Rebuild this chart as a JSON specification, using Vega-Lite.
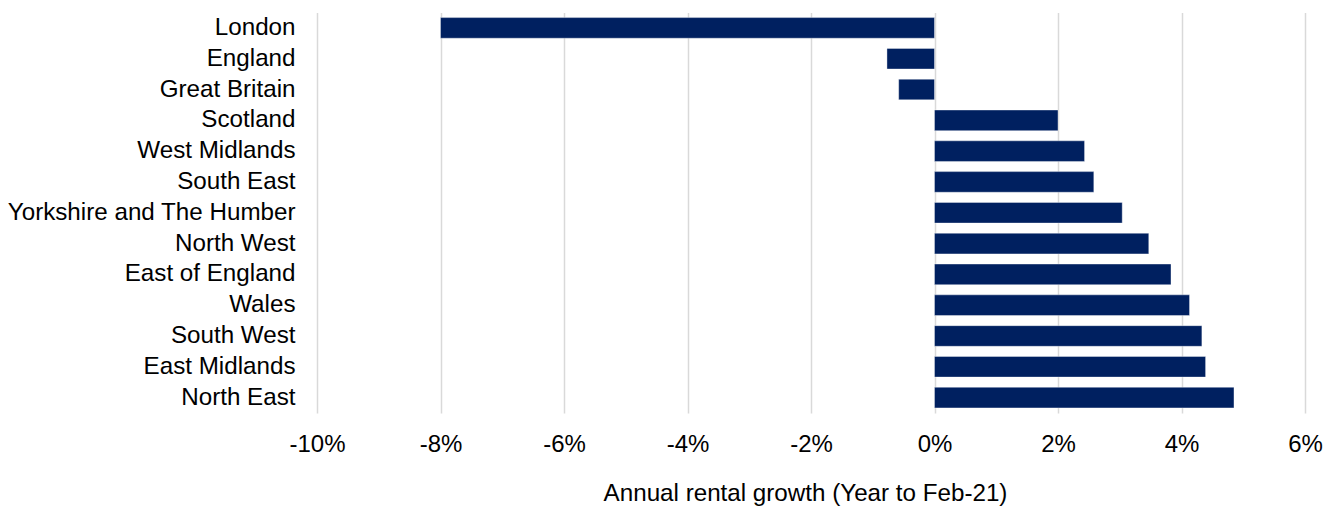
{
  "$schema": "https://vega.github.io/schema/vega-lite/v6.json",
  "autosize": "none",
  "padding": {"left": 317, "top": 12.5, "right": 30, "bottom": 93},
  "width": 988,
  "height": 400.5,
  "background": "#ffffff",
  "config": {
    "view": {"stroke": null},
    "font": "Liberation Sans",
    "axis": {"labelFont": "Liberation Sans", "titleFont": "Liberation Sans", "labelColor": "#000000", "titleColor": "#000000"}
  },
  "data": {
    "values": [
      {"region": "London", "growth": -0.0800},
      {"region": "England", "growth": -0.0077},
      {"region": "Great Britain", "growth": -0.0058},
      {"region": "Scotland", "growth": 0.0200},
      {"region": "West Midlands", "growth": 0.0243},
      {"region": "South East", "growth": 0.0258},
      {"region": "Yorkshire and The Humber", "growth": 0.0304},
      {"region": "North West", "growth": 0.0347},
      {"region": "East of England", "growth": 0.0383},
      {"region": "Wales", "growth": 0.0413},
      {"region": "South West", "growth": 0.0433},
      {"region": "East Midlands", "growth": 0.0439},
      {"region": "North East", "growth": 0.0485}
    ]
  },
  "mark": {"type": "bar", "color": "#002060", "stroke": "#ffffff", "strokeWidth": 0.75, "strokeOpacity": 0.5},
  "encoding": {
    "y": {
      "field": "region",
      "type": "nominal",
      "sort": null,
      "scale": {"paddingInner": 0.33, "paddingOuter": 0.165},
      "axis": {
        "title": null,
        "domain": false,
        "ticks": false,
        "tickSize": 0,
        "labelPadding": 22,
        "labelFontSize": 24.2,
        "labelLimit": 400
      }
    },
    "x": {
      "field": "growth",
      "type": "quantitative",
      "scale": {"domain": [-0.1, 0.06], "nice": false, "zero": false},
      "axis": {
        "title": "Annual rental growth (Year to Feb-21)",
        "labelExpr": "replace(format(datum.value, '.0%'), '\u2212', '-')",
        "values": [-0.1, -0.08, -0.06, -0.04, -0.02, 0, 0.02, 0.04, 0.06],
        "grid": true,
        "gridColor": "#d9d9d9",
        "gridWidth": 1.5,
        "domain": false,
        "ticks": false,
        "tickSize": 0,
        "labelPadding": 19,
        "labelFontSize": 24,
        "labelFlush": false,
        "titleFontSize": 24.2,
        "titleFontWeight": "normal",
        "titleX": 488,
        "titleAlign": "center",
        "titlePadding": 25
      }
    }
  }
}
